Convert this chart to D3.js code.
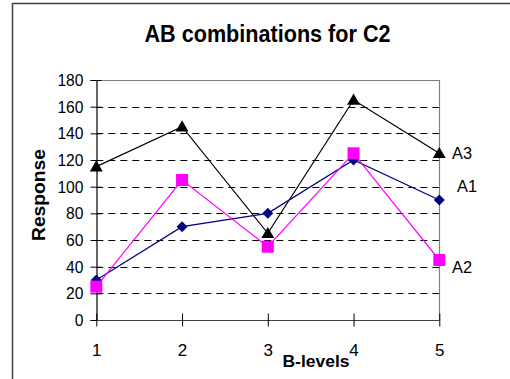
<!DOCTYPE html>
<html>
<head>
<meta charset="utf-8">
<script src="https://cdn.jsdelivr.net/npm/d3@7"></script>
<style>
  html, body { margin: 0; padding: 0; background: #fff; overflow: hidden; }
  svg { display: block; font-family: "Liberation Sans", Arial, sans-serif; }
</style>
</head>
<body>
<svg id="chart" width="510" height="379"></svg>
<script>
// ---- data ----
const categories = [1, 2, 3, 4, 5];
const yTicks = [0, 20, 40, 60, 80, 100, 120, 140, 160, 180];
const seriesNames = ["A1", "A2", "A3"];
const a1Values = [30, 70, 80, 120, 90];
const a2Values = [25, 105, 55, 125, 45];
const a3Values = [115, 145, 65, 165, 125];
const titleText = "AB combinations for C2";
const xTitle = "B-levels";
const yTitle = "Response";

const series = [
  { name: "A3", values: a3Values, color: "#000000", shape: "triangle", lx: 452, dy: 6 },
  { name: "A1", values: a1Values, color: "#000080", shape: "diamond", lx: 457, dy: -8 },
  { name: "A2", values: a2Values, color: "#FF00FF", shape: "square", lx: 452, dy: 13 }
];

const svg = d3.select("#chart");
const FONT = "Liberation Sans, Arial, sans-serif";

// outer frame
svg.append("path")
  .attr("d", "M12.5,380 L12.5,3.5 L512,3.5")
  .attr("fill", "none")
  .attr("stroke", "#404040")
  .attr("stroke-width", 1.5);

const x = d3.scaleLinear().domain([1, 5]).range([96.3, 439.3]);
const y = d3.scaleLinear().domain([0, 180]).range([320, 80]);

// gridlines (dashed) 20..160
svg.append("g").selectAll("line")
  .data(yTicks.filter(t => t > 0 && t < 180))
  .join("line")
  .attr("x1", x(1)).attr("x2", x(5))
  .attr("y1", d => Math.round(y(d)) + 0.5).attr("y2", d => Math.round(y(d)) + 0.5)
  .attr("stroke", "#000")
  .attr("stroke-width", 1)
  .attr("stroke-dasharray", "7,5");

// top & right gray border
svg.append("path")
  .attr("d", `M${x(1)},${Math.round(y(180)) + 0.5} L${Math.round(x(5)) + 0.5},${Math.round(y(180)) + 0.5} L${Math.round(x(5)) + 0.5},${y(0)}`)
  .attr("fill", "none")
  .attr("stroke", "#808080")
  .attr("stroke-width", 1.2);

// y axis
const yAxis = d3.axisLeft(y).tickValues(yTicks).tickSize(6).tickPadding(7);
const gy = svg.append("g")
  .attr("transform", `translate(${Math.round(x(1)) + 0.5},0)`)
  .call(yAxis);
gy.attr("font-size", null).attr("font-family", null);
gy.select(".domain").attr("stroke", "#000").attr("stroke-width", 1.2);
gy.selectAll(".tick line").attr("stroke", "#000").attr("x2", 5).attr("x1", -6);
gy.selectAll(".tick text")
  .style("font-size", "17px")
  .style("font-family", FONT)
  .attr("fill", "#000")
  .attr("textLength", d => String(d).length * 8.7)
  .attr("lengthAdjust", "spacingAndGlyphs");

// x axis
const xAxis = d3.axisBottom(x).tickValues(categories).tickFormat(d3.format("d")).tickSize(6).tickPadding(17);
const gx = svg.append("g")
  .attr("transform", `translate(0,${Math.round(y(0)) + 0.5})`)
  .call(xAxis);
gx.attr("font-size", null).attr("font-family", null);
gx.select(".domain").attr("stroke", "#404040").attr("stroke-width", 1.2).attr("d", `M${x(1)},0H${x(5)}`);
gx.selectAll(".tick line").attr("stroke", "#000").attr("y1", -7).attr("y2", 6);
gx.selectAll(".tick text")
  .style("font-size", "17px")
  .style("font-family", FONT)
  .attr("fill", "#000");

// lines & markers
const line = d3.line().x((d, i) => x(categories[i])).y(d => y(d));
const squareDiamond = {
  draw(ctx, size) {
    const r = Math.sqrt(size / 2);
    ctx.moveTo(0, -r); ctx.lineTo(r, 0); ctx.lineTo(0, r); ctx.lineTo(-r, 0); ctx.closePath();
  }
};
const symTypes = { triangle: d3.symbolTriangle, diamond: squareDiamond, square: d3.symbolSquare };
const symSizes = { triangle: 72, diamond: 60, square: 144 };

// draw order: A3, A1, A2 (A2 on top)
const order = ["A3", "A1", "A2"];
order.forEach(n => {
  const s = series.find(d => d.name === n);
  svg.append("path")
    .datum(s.values)
    .attr("d", line)
    .attr("fill", "none")
    .attr("stroke", s.color)
    .attr("stroke-width", 1.2);
});
order.forEach(n => {
  const s = series.find(d => d.name === n);
  svg.append("g").selectAll("path")
    .data(s.values)
    .join("path")
    .attr("transform", (d, i) => `translate(${x(categories[i])},${y(d) + (s.shape === "triangle" ? 1 : 0)})`)
    .attr("d", d3.symbol().type(symTypes[s.shape]).size(symSizes[s.shape]))
    .attr("fill", s.color);
});

// series labels at right
series.forEach(s => {
  svg.append("text")
    .attr("x", s.lx)
    .attr("y", y(s.values[s.values.length - 1]) + s.dy)
    .style("font-size", "17px")
    .attr("fill", "#000")
    .attr("textLength", 20)
    .attr("lengthAdjust", "spacingAndGlyphs")
    .text(s.name);
});

// title
svg.append("text")
  .attr("x", 267.5).attr("y", 42)
  .attr("text-anchor", "middle")
  .style("font-size", "23px")
  .attr("font-weight", "bold")
  .attr("textLength", 246)
  .attr("lengthAdjust", "spacingAndGlyphs")
  .text(titleText);

// x title
svg.append("text")
  .attr("x", 316).attr("y", 367)
  .attr("text-anchor", "middle")
  .style("font-size", "17px")
  .attr("font-weight", "bold")
  .attr("textLength", 67)
  .attr("lengthAdjust", "spacingAndGlyphs")
  .text(xTitle);

// y title
svg.append("text")
  .attr("transform", "translate(45,195) rotate(-90)")
  .attr("text-anchor", "middle")
  .style("font-size", "18px")
  .attr("font-weight", "bold")
  .attr("textLength", 92)
  .attr("lengthAdjust", "spacingAndGlyphs")
  .text(yTitle);
</script>
</body>
</html>
